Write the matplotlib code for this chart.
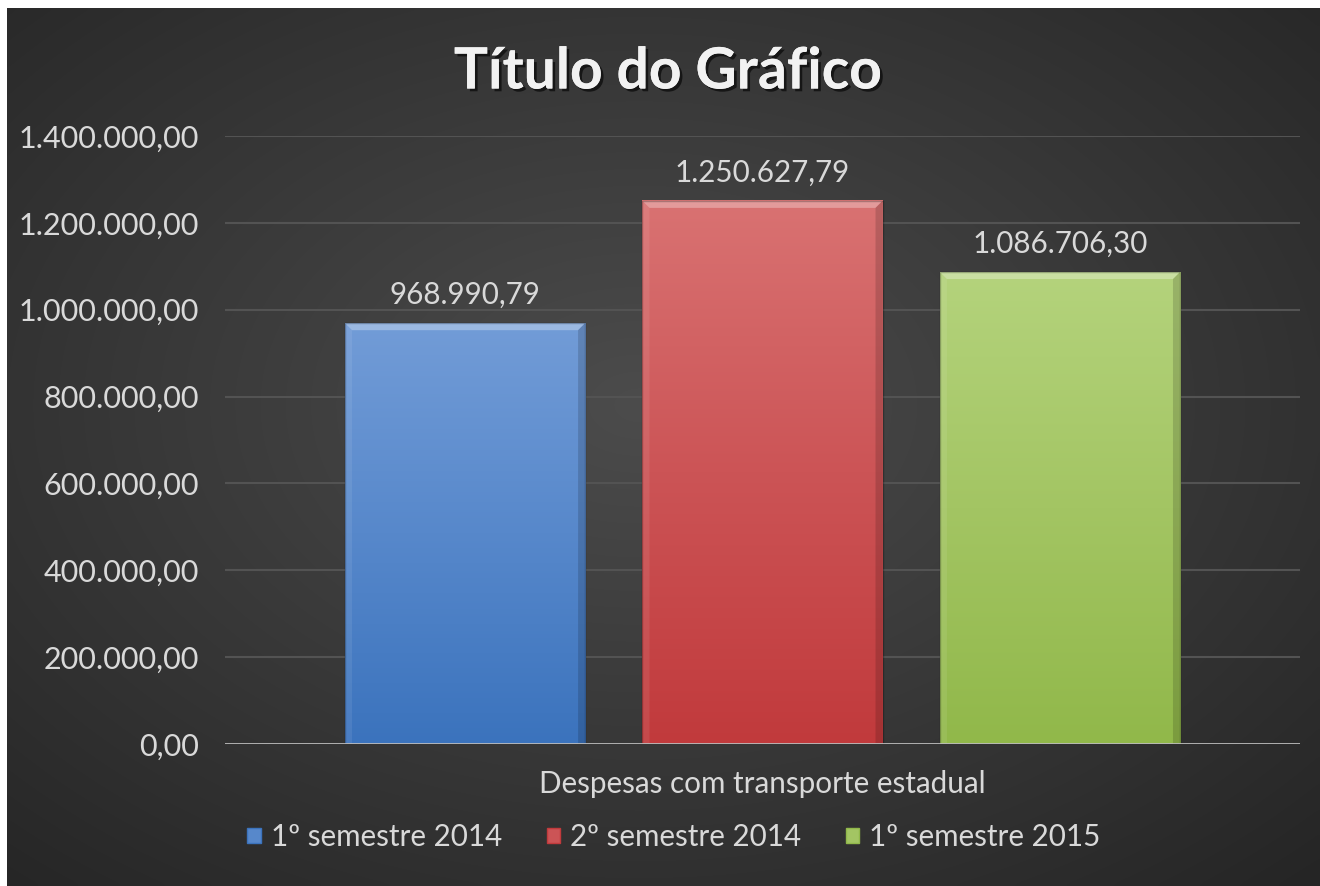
import numpy as np
import matplotlib
matplotlib.use('Agg')
import matplotlib.pyplot as plt
from matplotlib.colors import LinearSegmentedColormap
from matplotlib.patches import Polygon, Patch
import matplotlib.patheffects as pe

# Data
series = ['1º semestre 2014', '2º semestre 2014', '1º semestre 2015']
values = [968990.79, 1250627.79, 1086706.30]
category = 'Despesas com transporte estadual'
title = 'Título do Gráfico'

top_colors = ['#729cd7', '#d97272', '#b4d37c']
bottom_colors = ['#3b73bd', '#c13a3c', '#91b84a']
mid_colors = ['#5788cb', '#cc5456', '#a3c563']

def fmt_br(v):
    s = f"{v:,.2f}"
    return s.replace(',', 'X').replace('.', ',').replace('X', '.')

plt.rcParams['font.family'] = ['Lato', 'DejaVu Sans']
txt_color = '#d9d9d9'

W, H = 1320, 886
fig = plt.figure(figsize=(W / 100, H / 100), dpi=100)
fig.patch.set_facecolor('white')

# Background with radial gradient
bg = fig.add_axes([7 / W, 0, (W - 7) / W, (H - 8) / H])
bg.set_axis_off()
yy, xx = np.mgrid[0:200, 0:300]
cx, cy = 0.48 * 300, 0.45 * 200
r = np.sqrt(((xx - cx) / 300) ** 2 + ((yy - cy) / 200) ** 2)
r = np.clip(r / 0.75, 0, 1)
c0, c1 = 0x4c / 255, 0x25 / 255
gray = c0 + (c1 - c0) * r
bg.imshow(np.dstack([gray, gray, gray]), aspect='auto', extent=(0, 1, 0, 1), interpolation='bicubic')
bg.set_xlim(0, 1)
bg.set_ylim(0, 1)

# Main axes
x0, x1 = 225, 1300
y_top, y_bot = 136, 744
ax = fig.add_axes([x0 / W, 1 - y_bot / H, (x1 - x0) / W, (y_bot - y_top) / H])
ax.patch.set_alpha(0)
ax.set_xlim(-0.5, 0.5)
ax.set_ylim(0, 1400000)
yticks = np.arange(0, 1400001, 200000)
ax.set_yticks(yticks)
ax.set_yticklabels([fmt_br(t) for t in yticks], color=txt_color, fontsize=22)
ax.tick_params(axis='y', length=0, pad=19)
ax.set_xticks([])
for s in ax.spines.values():
    s.set_visible(False)
for t in yticks[1:]:
    ax.axhline(t, color='#535353', lw=1.5, zorder=0)
ax.axhline(0, color='#bcbcbc', lw=2, zorder=5)

bar_w = 0.2233
spacing = 0.2767
xs = (np.arange(len(values)) - 1) * spacing
px_x = 1.0 / (x1 - x0)            # data units per pixel (x)
px_y = 1400000 / (y_bot - y_top)  # data units per pixel (y)
bev = 7

for i, (x, v) in enumerate(zip(xs, values)):
    l, rgt = x - bar_w / 2, x + bar_w / 2
    cmap = LinearSegmentedColormap.from_list('g', [bottom_colors[i], mid_colors[i], top_colors[i]])
    grad = np.linspace(0, 1, 256).reshape(-1, 1)
    ax.imshow(grad, cmap=cmap, origin='lower', aspect='auto', extent=(l, rgt, 0, v), zorder=2)
    bx, by = bev * px_x, bev * px_y
    # top bevel (light)
    ax.add_patch(Polygon([(l, v), (rgt, v), (rgt - bx, v - by), (l + bx, v - by)],
                         closed=True, fc='white', alpha=0.3, ec='none', zorder=3))
    # left / right bevel
    ax.add_patch(Polygon([(l, v), (l + bx, v - by), (l + bx, 0), (l, 0)],
                         closed=True, fc='white', alpha=0.08, ec='none', zorder=3))
    ax.add_patch(Polygon([(rgt, v), (rgt - bx, v - by), (rgt - bx, 0), (rgt, 0)],
                         closed=True, fc='black', alpha=0.15, ec='none', zorder=3))
    ax.plot([l, rgt, rgt, l, l], [0, 0, v, v, 0], color='black', alpha=0.25, lw=1, zorder=4)
    ax.text(x, v + 14 * px_y, fmt_br(v), ha='center', va='bottom', color=txt_color, fontsize=21.3)
ax.set_xlim(-0.5, 0.5)

# Category label
fig.text(762 / W, 1 - 784 / H, category, ha='center', va='center', color=txt_color, fontsize=21.3)

# Title
fig.text(668 / W, 1 - 72 / H, title, ha='center', va='center', color='#f2f2f2', fontsize=41,
         fontweight='bold',
         path_effects=[pe.withSimplePatchShadow(offset=(2, -2), shadow_rgbFace='black', alpha=0.6), pe.Normal()])

# Legend
handles = [Patch(facecolor=mid_colors[i], edgecolor=bottom_colors[i], label=series[i]) for i in range(3)]
leg = fig.legend(handles=handles, loc='center', bbox_to_anchor=(674 / W, 1 - 837 / H), ncol=3,
                 frameon=False, fontsize=21.3, handlelength=0.45, handleheight=0.45, handletextpad=0.35,
                 columnspacing=1.5, labelcolor=txt_color)

fig.savefig('out.png', dpi=100, facecolor=fig.get_facecolor())
